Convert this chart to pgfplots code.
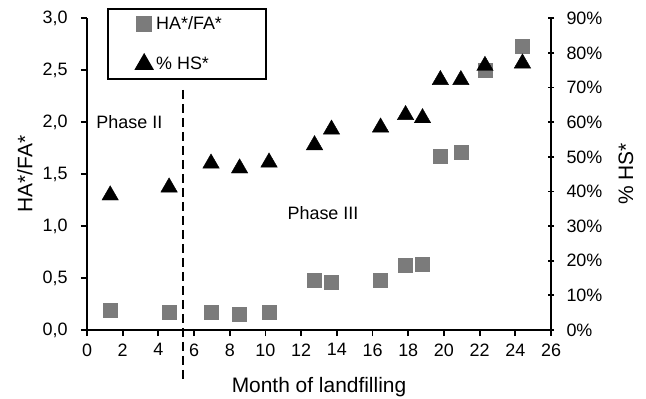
\documentclass[border=0pt]{standalone}
\usepackage{fontspec}
\setmainfont{Liberation Sans}
\usepackage{pgfplots}
\pgfplotsset{compat=1.18}

\definecolor{sqgray}{HTML}{7B7B7B}

% HA*/FA* ratio (left axis)
\pgfplotstableread{
month ratio
1.30  0.190
4.60  0.176
6.95  0.176
8.55  0.151
10.20 0.176
12.75 0.475
13.70 0.459
16.45 0.475
17.85 0.626
18.80 0.632
19.80 1.668
20.95 1.716
22.30 2.496
24.40 2.727
}\ratiodata

% share of HS* in percent (right axis)
\pgfplotstableread{
month hs
1.30  38.9
4.60  41.2
6.95  48.1
8.55  46.7
10.20 48.4
12.75 53.4
13.70 57.9
16.45 58.5
17.85 62.1
18.80 61.2
19.80 72.2
20.95 72.2
22.30 76.3
24.40 77.0
}\hsdata

\pgfplotsset{
  common/.style={
    scale only axis, width=464bp, height=311.7bp,
    xmin=0, xmax=26, clip=false,
    /pgf/number format/assume math mode=true,
    tick label style={font=\fontsize{18}{20}\selectfont},
    axis line style={-, line width=1.8bp},
    major tick style={line width=1.8bp, black},
    major tick length=6bp,
  },
  sqmark/.style={only marks, mark=square*, mark size=7bp,
    mark options={fill=sqgray, draw=sqgray}},
  trimark/.style={only marks, mark=triangle*, mark size=9.5bp,
    mark options={fill=black, draw=black}},
  % legend symbol: one mark with fixed room to its left and right
  onemark/.style={legend image code/.code={
    \path[draw=none, fill=none] (-36bp,-10bp) rectangle (10bp,10bp);
    \draw[##1] plot coordinates {(0bp,0bp)};}},
}

\begin{document}
\begin{tikzpicture}
\begin{axis}[common,
  axis x line*=bottom, axis y line*=left,
  tick align=outside,
  ymin=0, ymax=3, ytick={0,0.5,...,3},
  xtick={0,2,...,26},
  x tick label style={yshift=-4bp},
  y tick label style={xshift=-10bp, /pgf/number format/.cd, use comma, fixed, fixed zerofill, precision=1},
  xlabel={Month of landfilling},
  ylabel={HA*/FA*},
  every axis y label/.style={at={([xshift=-62bp]axis description cs:0,0.5)}, rotate=90, anchor=center, font=\fontsize{21}{24}\selectfont},
  every axis x label/.style={at={([yshift=-57bp]axis description cs:0.5,0)}, anchor=center, font=\fontsize{21}{24}\selectfont},
  legend cell align=left,
  legend style={at={(axis description cs:0.0437,1.032)}, anchor=north west,
    draw=black, line width=1.8bp, font=\fontsize{18}{21}\selectfont,
    row sep=20bp, inner xsep=0bp, inner ysep=5bp},
]
\addplot[sqmark, onemark] table[x=month, y=ratio] {\ratiodata};
\addlegendentry{\makebox[108bp][l]{HA*/FA*}}
\addlegendimage{trimark, onemark}
\addlegendentry{\makebox[108bp][l]{\% HS*}}

\coordinate (O) at (rel axis cs:0,0);
\draw[line width=2bp, dash pattern=on 9bp off 5bp] (axis cs:5.4,2.31) -- (axis cs:5.4,-0.48);
\node[anchor=west, inner sep=0pt, font=\fontsize{18}{21}\selectfont] at (axis cs:0.52,2.005) {Phase II};
\node[anchor=west, inner sep=0pt, font=\fontsize{18}{21}\selectfont] at (axis cs:11.23,1.126) {Phase III};
\end{axis}

\begin{axis}[common,
  axis y line*=right, axis x line=none,
  tick align=center,
  ymin=0, ymax=90, ytick={0,10,...,90},
  y tick label style={xshift=9bp},
  yticklabel={\pgfmathprintnumber{\tick}\%},
  ylabel={\% HS*},
  every axis y label/.style={at={([xshift=75bp]axis description cs:1,0.5)}, rotate=90, anchor=center, font=\fontsize{21}{24}\selectfont},
]
\addplot[trimark] table[x=month, y=hs] {\hsdata};
\end{axis}

\pgfresetboundingbox
\path ([shift={(-87bp,-69bp)}]O) rectangle ++(646bp,399bp);
\end{tikzpicture}
\end{document}
